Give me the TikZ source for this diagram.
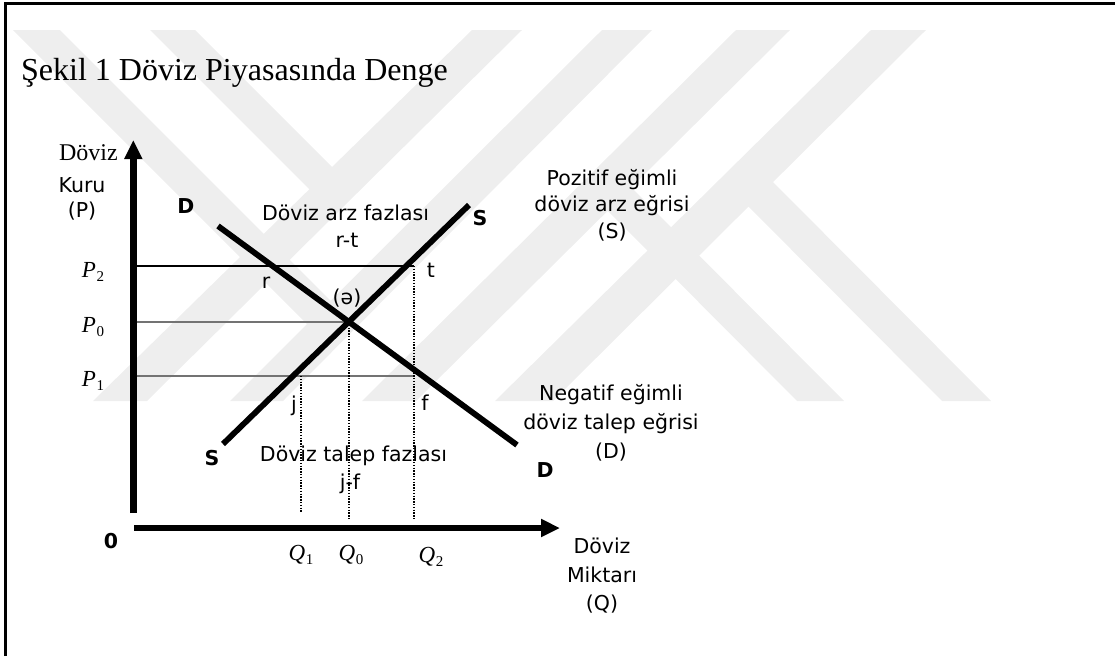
\documentclass[tikz,border=0pt]{standalone}
\usepackage{fontspec}
\setmainfont{Liberation Serif}
\newfontfamily\vfont{DejaVu Sans}
\usetikzlibrary{arrows.meta}
\definecolor{wm}{RGB}{238,238,238}
\newcommand{\varlab}[2]{{\itshape #1}\kern0.5pt\raisebox{-4.5pt}{\fontsize{15}{15}\selectfont #2}}
\begin{document}
\begin{tikzpicture}[x=1pt,y=-1pt,
  lbl/.style={font=\vfont\fontsize{20.5}{24}\selectfont, inner sep=0pt, anchor=base},
  bl/.style={font=\vfont\bfseries\fontsize{20.5}{24}\selectfont, inner sep=0pt, anchor=base},
  ml/.style={font=\fontsize{23}{27}\selectfont, inner sep=0pt, anchor=base},
  axisline/.style={line width=6.5pt, -{Triangle[length=19pt,width=17pt]}},
  curve/.style={line width=5.8pt},
  guide/.style={line width=1.7pt},
  gguide/.style={line width=1.5pt, draw=black!55},
  dots/.style={line width=1.4pt, dash pattern=on 1.4pt off 1.4pt},
  frame/.style={line width=2.8pt},
  band/.style={fill=wm, draw=none}
]
\useasboundingbox (0,0) rectangle (1115,656);

% watermark (light grey bands)
\fill[band] (93,401) -- (147,401) -- (522,30) -- (472,30) -- cycle;
\fill[band] (230,401) -- (283,401) -- (652,30) -- (602,30) -- cycle;
\fill[band] (362,401) -- (416,401) -- (790,30) -- (736,30) -- cycle;
\fill[band] (495,401) -- (553,401) -- (926,30) -- (871,30) -- cycle;
\fill[band] (13,30) -- (60,30) -- (340,310) -- (317,334) -- cycle;
\fill[band] (150,30) -- (195,30) -- (342,177) -- (319,199) -- cycle;
\fill[band] (797,401) -- (844,401) -- (622,178) -- (597.5,200.5) -- cycle;
\fill[band] (942,401) -- (991,401) -- (765,174) -- (738,196) -- cycle;

% frame
\coordinate (fbl) at (5.5,656);
\coordinate (ftl) at (5.5,3.5);
\coordinate (ftr) at (1115,3.5);
\draw[frame] (fbl) -- (ftl) -- (ftr);

% title
\node[font=\fontsize{32}{38}\selectfont, inner sep=0pt, anchor=base west] (title) at (21,80) {Şekil 1 Döviz Piyasasında Denge};

% axes
\coordinate (ybot) at (133.3,513);
\coordinate (ytip) at (133.3,140);
\coordinate (xleft) at (134,528);
\coordinate (xtip) at (560,528);
\draw[axisline] (ybot) -- (ytip);
\draw[axisline] (xleft) -- (xtip);

% guide lines
\coordinate (P2a) at (136.6,266);
\coordinate (P2b) at (414,266);
\coordinate (P0a) at (136.6,322);
\coordinate (E) at (349,322);
\coordinate (P1a) at (136.6,376);
\coordinate (P1b) at (414,376);
\coordinate (Q1top) at (301,376);
\coordinate (Q1bot) at (301,512);
\coordinate (Q0bot) at (349,519);
\coordinate (Q2bot) at (414,519);
\draw[guide] (P2a) -- (P2b);
\draw[gguide] (P0a) -- (E);
\draw[gguide] (P1a) -- (P1b);
\draw[dots] (Q1top) -- (Q1bot);
\draw[dots] (E) -- (Q0bot);
\draw[dots] (P2b) -- (Q2bot);

% curves
\coordinate (Dtop) at (218,226);
\coordinate (Dbot) at (517,445);
\coordinate (Sbot) at (223,444);
\coordinate (Stop) at (469,205);
\draw[curve] (Dtop) -- (Dbot);
\draw[curve] (Sbot) -- (Stop);

% axis labels
\node[font=\fontsize{24}{28}\selectfont, inner sep=0pt, anchor=base east] (yl1) at (118,160) {Döviz};
\node[lbl] (yl2) at (82,192) {Kuru};
\node[lbl] (yl3) at (82,217) {(P)};
\node[ml] (p2) at (93,277) {\varlab{P}{2}};
\node[ml] (p0) at (93,332) {\varlab{P}{0}};
\node[ml] (p1) at (93,386) {\varlab{P}{1}};
\node[bl] (zero) at (111,548) {0};
\node[ml] (q1) at (301,560) {\varlab{Q}{1}};
\node[ml] (q0) at (351,560) {\varlab{Q}{0}};
\node[ml] (q2) at (431,562) {\varlab{Q}{2}};
\node[lbl] (xl1) at (602,553) {Döviz};
\node[lbl] (xl2) at (602,582) {Miktarı};
\node[lbl] (xl3) at (602,610) {(Q)};

% curve labels
\node[bl] (Dlab1) at (186,213) {D};
\node[bl] (Dlab2) at (545,477) {D};
\node[bl] (Slab1) at (480,225) {S};
\node[bl] (Slab2) at (212,465) {S};

% point labels
\node[lbl] (r) at (266,288) {r};
\node[lbl] (t) at (431,277) {t};
\node[lbl] (eq) at (347,304) {(ə)};
\node[lbl] (j) at (294,411) {j};
\node[lbl] (f) at (425,410) {f};

% region labels
\node[lbl] (arz1) at (345.5,220) {Döviz arz fazlası};
\node[lbl] (arz2) at (347,247) {r-t};
\node[lbl] (tal1) at (353.5,461) {Döviz talep fazlası};
\node[lbl] (tal2) at (350,489) {j-f};

% side notes
\node[lbl] (pos1) at (612,185) {Pozitif eğimli};
\node[lbl] (pos2) at (612,211.5) {döviz arz eğrisi};
\node[lbl] (pos3) at (612,238.5) {(S)};
\node[lbl] (neg1) at (611,400) {Negatif eğimli};
\node[lbl] (neg2) at (611,429) {döviz talep eğrisi};
\node[lbl] (neg3) at (611,458) {(D)};
\end{tikzpicture}
\end{document}
